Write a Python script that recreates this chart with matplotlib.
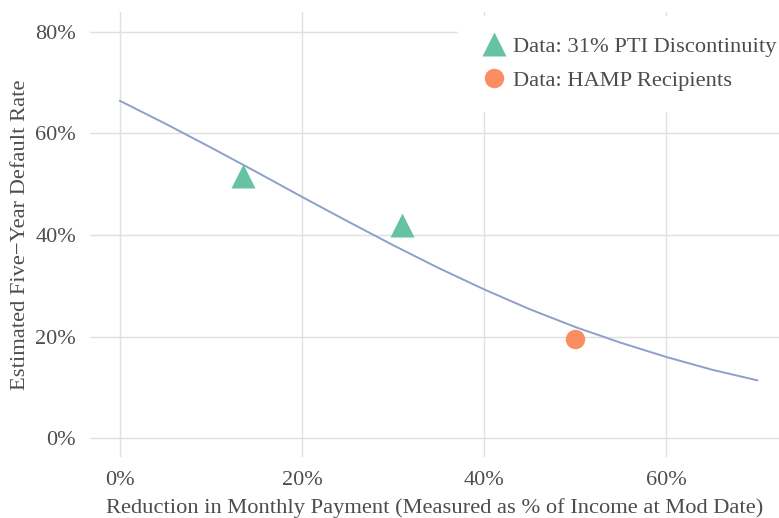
import numpy as np
import matplotlib.pyplot as plt
from matplotlib.ticker import FuncFormatter

plt.rcParams['font.family'] = ['Liberation Serif', 'DejaVu Serif']

# fitted default-rate curve, read at 5-point steps of payment reduction
curve_x = [0, 5, 10, 15, 20, 25, 30, 35, 40, 45, 50, 55, 60, 65, 70]
curve_y = [66.4, 61.9, 57.2, 52.4, 47.5, 42.7, 38.0, 33.5, 29.3, 25.4, 21.9, 18.8, 16.0, 13.5, 11.4]

# observed points
pti_x = [13.5, 31.0]
pti_y = [51.6, 42.0]
hamp_x = [50.0]
hamp_y = [19.5]

line_col = '#8da0cb'
green = '#66c2a5'
orange = '#fc8d62'
text_col = '#4d4d4d'
grid_col = '#e0e0e0'

fig = plt.figure(figsize=(7.79, 5.18), dpi=100)
ax = fig.add_axes([90 / 779, 61 / 518, 689 / 779, 445 / 518])

ax.plot(curve_x, curve_y, color=line_col, lw=1.4, zorder=2)
ax.plot(pti_x, pti_y, ls='none', marker='^', ms=17, color=green, mec='none',
        label='Data: 31% PTI Discontinuity', zorder=3)
ax.plot(hamp_x, hamp_y, ls='none', marker='o', ms=14, color=orange, mec='none',
        label='Data: HAMP Recipients', zorder=3)

ax.set_xlim(-3.3, 72.4)
ax.set_ylim(-3.7, 83.9)
ax.set_xticks([0, 20, 40, 60])
ax.set_yticks([0, 20, 40, 60, 80])
pct = FuncFormatter(lambda v, p: f'{v:.0f}%')
ax.xaxis.set_major_formatter(pct)
ax.yaxis.set_major_formatter(pct)

ax.grid(True, color=grid_col, lw=1.0, zorder=0)
ax.set_axisbelow(True)
for s in ax.spines.values():
    s.set_visible(False)
ax.tick_params(length=0, labelsize=16, labelcolor=text_col)
ax.tick_params(axis='y', pad=10)
ax.tick_params(axis='x', pad=10)

ax.set_xlabel('Reduction in Monthly Payment (Measured as % of Income at Mod Date)',
              fontsize=16.2, color=text_col, labelpad=6)
ax.set_ylabel('Estimated Five\u2212Year Default Rate', fontsize=16.2, color=text_col, labelpad=4)

leg = ax.legend(loc='upper right', bbox_to_anchor=(1.026, 0.991), frameon=True, fontsize=16.2,
                handletextpad=0.15, borderpad=0.9, labelspacing=0.6, borderaxespad=0.0,
                handlelength=1.4, fancybox=False)
leg.get_frame().set_edgecolor('none')
leg.get_frame().set_facecolor('white')
leg.get_frame().set_alpha(1.0)
for t in leg.get_texts():
    t.set_color(text_col)

fig.savefig('out.png', dpi=100)
